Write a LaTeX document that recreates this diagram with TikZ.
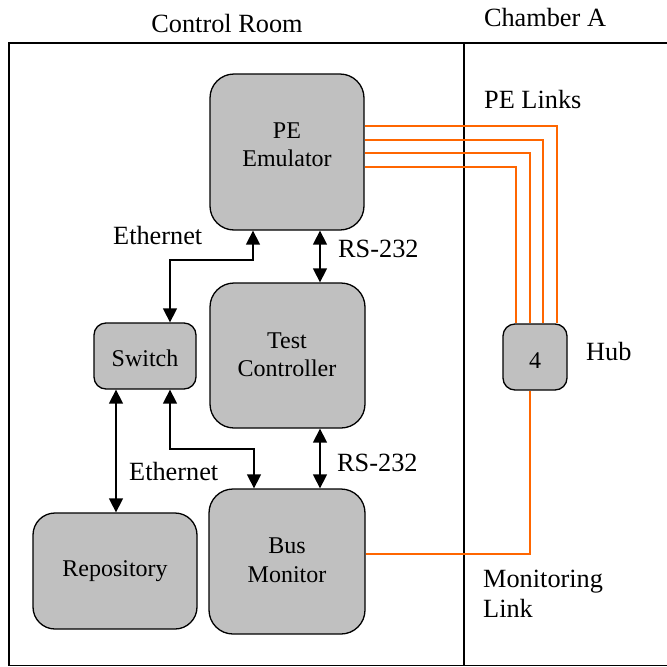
\documentclass[tikz,border=0pt]{standalone}
\usepackage{fontspec}
\setmainfont{Liberation Serif}
\usetikzlibrary{arrows.meta}
\definecolor{boxgray}{RGB}{192,192,192}
\definecolor{linkorange}{RGB}{255,102,0}
\tikzset{
  box/.style={draw=black, line width=1.3pt, fill=boxgray, inner sep=0pt},
  txt/.style={inner sep=0pt, font=\fontsize{24}{28.5}\selectfont},
  lbl/.style={inner sep=0pt, font=\fontsize{26.3}{30}\selectfont},
  dblarrow/.style={line width=1.4pt, {Triangle[length=14pt,width=14pt]}-{Triangle[length=14pt,width=14pt]}},
  orangelink/.style={draw=linkorange, line width=1.6pt},
  frame/.style={line width=1.6pt}
}
\begin{document}
\begin{tikzpicture}[x=1pt,y=-1pt]
\clip (0,0) rectangle (667,667);
% frame
\draw[frame] (680,43) -- (9,43) -- (9,665.5) -- (680,665.5);
\draw[frame] (464,43) -- (464,665.5);
% boxes
\node[box, rounded corners=24pt, minimum width=154pt, minimum height=156pt] (pe) at (287,152) {};
\node[box, rounded corners=24pt, minimum width=155pt, minimum height=145pt] (tc) at (287.5,355.5) {};
\node[box, rounded corners=12pt, minimum width=102pt, minimum height=66pt] (sw) at (145,356) {};
\node[box, rounded corners=22pt, minimum width=164pt, minimum height=116pt] (repo) at (115,571) {};
\node[box, rounded corners=24pt, minimum width=156pt, minimum height=145pt] (bm) at (287,561.5) {};
\node[box, rounded corners=12pt, minimum width=64pt, minimum height=66pt] (hub) at (535,357) {};
% texts
\node[lbl, anchor=base] (tcr) at (227,32) {Control Room};
\node[lbl, anchor=base] (tch) at (545,26) {Chamber A};
\node[lbl, anchor=base west] (tpl) at (484,108) {PE Links};
\node[txt, align=center] (tpe) at (287,145) {PE\\Emulator};
\node[txt, align=center] (ttc) at (287,355) {Test\\Controller};
\node[txt, align=center] (tbm) at (287,560.5) {Bus\\Monitor};
\node[txt, anchor=base] (tsw) at (145,366) {Switch};
\node[txt, anchor=base] (trepo) at (115,576) {Repository};
\node[txt, anchor=base] (thub4) at (535,368) {4};
\node[lbl, anchor=base west] (thub) at (586,360) {Hub};
\node[lbl, anchor=base west] (teth1) at (113,244) {Ethernet};
\node[lbl, anchor=base west] (trs1) at (338,257) {RS-232};
\node[lbl, anchor=base west] (teth2) at (129,480) {Ethernet};
\node[lbl, anchor=base west] (trs2) at (337,471) {RS-232};
\node[lbl, align=left, anchor=west] (tml) at (483,594) {Monitoring\\Link};
% orange links
\draw[orangelink] (pe.east |- 0,126) -| (hub.north -| 557,0);
\draw[orangelink] (pe.east |- 0,140) -| (hub.north -| 543,0);
\draw[orangelink] (pe.east |- 0,153) -| (hub.north -| 530,0);
\draw[orangelink] (pe.east |- 0,167) -| (hub.north -| 516,0);
\draw[orangelink] (hub.south -| 530,0) |- (bm.east |- 0,554);
% arrows
\draw[dblarrow] (pe.south -| 253,0) |- (170,260) -- (sw.north -| 170,0);
\draw[dblarrow] (pe.south -| 320,0) -- (tc.north -| 320,0);
\draw[dblarrow] (sw.south -| 116,0) -- (repo.north -| 116,0);
\draw[dblarrow] (sw.south -| 170,0) |- (254,449) -- (bm.north -| 254,0);
\draw[dblarrow] (tc.south -| 320,0) -- (bm.north -| 320,0);
\end{tikzpicture}
\end{document}
